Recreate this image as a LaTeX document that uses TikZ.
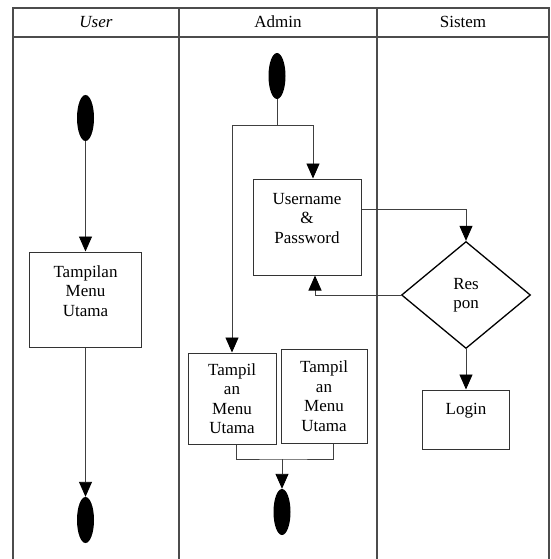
\documentclass[tikz,border=0pt]{standalone}
\usepackage{fontspec}
\setmainfont{Liberation Serif}
\usetikzlibrary{shapes.geometric,arrows.meta,positioning,calc}

\begin{document}
\begin{tikzpicture}[
    x=1pt, y=-1pt,
    lane/.style={draw=black!70, line width=1.2pt},
    startend/.style={ellipse, fill=black, minimum width=17pt, minimum height=46pt, inner sep=0pt},
    activity/.style={rectangle, draw=black!80, line width=1pt, align=center, inner sep=2pt, font=\fontsize{17}{19.5}\selectfont},
    decision/.style={diamond, draw=black, line width=1.3pt, align=center, minimum width=129pt, minimum height=107pt, inner sep=0pt, font=\fontsize{17}{19.5}\selectfont},
    arrow/.style={-{Triangle[width=13pt,length=15pt,color=black]}, draw=black!75, line width=0.9pt},
    link/.style={draw=black!75, line width=0.9pt}
]
    \useasboundingbox (0,0) rectangle (550,559);

    % Swimlanes
    \draw[lane] (13,559) -- (13,8) -- (549,8) -- (549,559);
    \draw[lane] (13,37) -- (549,37);
    \draw[lane] (179,8) -- (179,559);
    \draw[lane] (377,8) -- (377,559);
    \node[font=\fontsize{17}{19.5}\selectfont] (huser) at (96,22) {\textit{User}};
    \node[font=\fontsize{17}{19.5}\selectfont] (hadmin) at (278,22) {Admin};
    \node[font=\fontsize{17}{19.5}\selectfont] (hsistem) at (463,22) {Sistem};

    % User
    \node[startend] (ustart) at (85.5,118) {};
    \node[activity, minimum width=112pt, minimum height=95pt, text depth=17pt] (umenu) at (85.5,299.5) {Tampilan\\Menu\\Utama};
    \node[startend] (uend) at (85.5,520) {};

    % Admin
    \node[startend] (astart) at (277,76) {};
    \node[activity, minimum width=108pt, minimum height=96pt, text depth=18pt] (userpass) at (307,227) {Username\\\&\\Password};
    \node[activity, minimum width=88pt, minimum height=91pt] (amenu1) at (232,398.5) {Tampil\\an\\Menu\\Utama};
    \node[activity, minimum width=86pt, minimum height=94pt] (amenu2) at (324,396) {Tampil\\an\\Menu\\Utama};
    \node[startend] (aend) at (282,512) {};

    % Sistem
    \node[decision] (respon) at (466,295) {Res\\pon};
    \node[activity, minimum width=87pt, minimum height=59pt, text depth=22pt] (login) at (466,419.5) {Login};

    % Arrows
    \draw[arrow] (ustart) -- (umenu);
    \draw[arrow] (umenu) -- (uend);
    \coordinate (fork) at (277,125);
    \draw[link] (astart) -- (fork);
    \draw[arrow] (fork) -| ([xshift=6pt]userpass.north);
    \draw[arrow] (fork) -| (amenu1.north);
    \draw[arrow] ([yshift=18pt]userpass.east) -| (respon.north);
    \draw[arrow] (respon.west) -| ([xshift=8pt]userpass.south);
    \draw[arrow] (respon) -- (login);
    \coordinate (join) at (282,459);
    \draw[link] ([xshift=4pt]amenu1.south) |- (join) -| ([xshift=9pt]amenu2.south);
    \draw[arrow] (join) -- (aend);
\end{tikzpicture}
\end{document}
